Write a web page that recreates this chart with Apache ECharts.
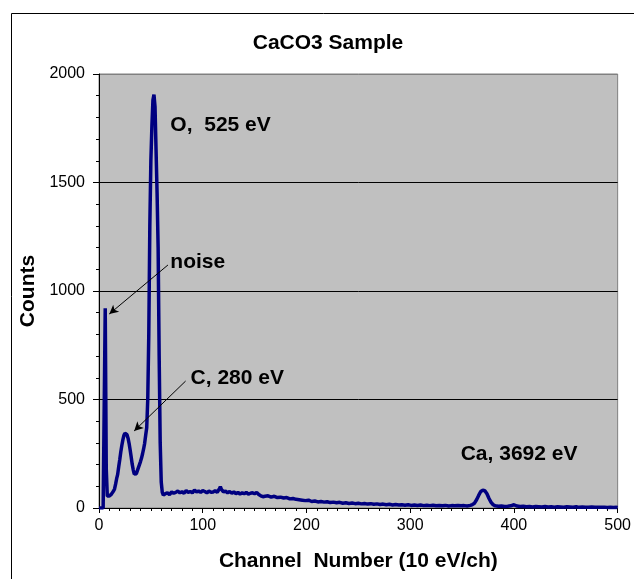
<!DOCTYPE html>
<html>
<head>
<meta charset="utf-8">
<script src="https://cdn.jsdelivr.net/npm/echarts@6/dist/echarts.min.js"></script>
<style>
html,body{margin:0;padding:0;background:#fff;}
#main{width:634px;height:579px;}
</style>
</head>
<body>
<div id="main"></div>
<script>
// ---- data ----
const channels = [
  0,1,2,3,4,5,6,7,8,9,10,11,12,13,14,15,16,17,18,19,20,21,22,23,24,25,26,27,28,29,
  30,31,32,33,34,35,36,37,38,39,40,41,42,43,44,45,46,47,48,49,50,51,52,53,54,55,56,57,58,59,
  60,61,62,64,66,68,70,72,74,76,78,80,82,84,86,88,90,92,94,96,98,100,102,104,106,108,110,112,114,116,
  117,118,120,122,124,126,128,130,132,134,136,138,140,142,144,146,148,150,152,154,156,158,160,
  163,166,169,172,175,178,181,184,187,190,193,196,199,202,205,208,211,214,217,220,223,226,229,232,235,238,
  241,244,247,250,253,256,259,262,265,268,271,274,277,280,283,286,289,292,295,298,301,304,307,310,313,316,
  319,322,325,328,331,334,337,340,343,346,349,352,355,358,360,362,364,366,368,370,372,374,376,378,380,382,
  385,388,391,394,397,400,403,406,409,412,415,418,421,424,427,430,433,436,439,442,445,448,451,454,457,460,
  463,466,469,472,475,478,481,484,487,490,493,496,499,500
];
const counts = [
  0,0,0,0,0,0,920,180,55,48,55,60,64,72,78,88,110,135,155,190,222,258,288,314,334,345,347,338,322,298,
  268,236,202,176,156,148,158,172,186,200,214,230,250,272,298,335,370,500,800,1300,1600,1760,1880,1905,1850,1650,1450,1200,700,300,
  120,72,60,66,70,62,74,68,72,78,70,75,68,80,72,76,70,82,74,78,72,80,76,70,78,72,74,80,72,88,
  98,86,74,78,70,76,68,74,66,72,64,70,66,72,64,68,70,66,72,62,56,52,54,
  56,50,54,48,50,46,48,42,44,40,38,36,34,36,30,32,28,30,27,29,25,27,24,26,22,24,
  21,23,20,22,19,21,18,20,17,19,16,18,15,17,14,16,14,15,13,15,12,14,12,14,11,13,
  11,13,10,12,10,12,9,11,10,12,10,11,9,12,16,22,38,58,76,82,80,66,44,26,15,10,
  8,9,7,8,10,15,9,7,8,6,7,5,7,6,5,7,5,6,4,6,5,4,6,5,4,6,
  3,5,4,3,5,3,4,3,4,2,3,2,3,2
];
const xTicks = [0,100,200,300,400,500];
const yTicks = [0,500,1000,1500,2000];
const annotations = [
  {text: 'O,  525 eV', c: 68.8, v: 1765},
  {text: 'noise', c: 68.8, v: 1135},
  {text: 'C, 280 eV', c: 88.3, v: 599},
  {text: 'Ca, 3692 eV', c: 348.7, v: 249}
];
const arrows = [
  {from: [66.5, 1120], to: [9.9, 894]},
  {from: [83.5, 585], to: [33.9, 355]}
];
const chartTitle = 'CaCO3 Sample';
const xTitle = 'Channel  Number (10 eV/ch)';
const yTitle = 'Counts';

const FONT = "'Liberation Sans', Arial, sans-serif";
const seriesData = channels.map((c, i) => [c, counts[i]]);

const chart = echarts.init(document.getElementById('main'), null, {renderer: 'canvas'});
const option = {
  animation: false,
  backgroundColor: '#ffffff',
  grid: {
    left: 99, right: 14, top: 74, bottom: 71,
    show: true, backgroundColor: '#c0c0c0', borderColor: '#808080', borderWidth: 1
  },
  xAxis: {
    type: 'value',
    min: xTicks[0], max: xTicks[xTicks.length - 1], interval: 100,
    name: xTitle, nameLocation: 'middle', nameGap: 43,
    nameTextStyle: {fontFamily: FONT, fontSize: 21, fontWeight: 'bold', color: '#000'},
    axisLine: {show: true, onZero: false, lineStyle: {color: '#000', width: 1}},
    axisTick: {show: true, inside: false, length: 5, lineStyle: {color: '#000'}},
    minorTick: {show: true, splitNumber: 10, length: 3, lineStyle: {color: '#000'}},
    axisLabel: {fontFamily: FONT, fontSize: 16, color: '#000', margin: 10, formatter: v => String(v)},
    splitLine: {show: false}
  },
  yAxis: {
    type: 'value',
    min: yTicks[0], max: yTicks[yTicks.length - 1], interval: 500,
    name: yTitle, nameLocation: 'middle', nameGap: 56,
    nameTextStyle: {fontFamily: FONT, fontSize: 21, fontWeight: 'bold', color: '#000'},
    axisLine: {show: true, lineStyle: {color: '#000', width: 1}},
    axisTick: {show: true, inside: false, length: 6, lineStyle: {color: '#000'}},
    minorTick: {show: true, splitNumber: 5, length: 3, lineStyle: {color: '#000'}},
    axisLabel: {fontFamily: FONT, fontSize: 16, color: '#000', margin: 14, formatter: v => String(v)},
    splitLine: {show: true, lineStyle: {color: ['#000', '#000', '#000', '#000', '#808080'], width: 1}}
  },
  series: [{
    type: 'line',
    data: seriesData,
    showSymbol: false,
    symbol: 'none',
    lineStyle: {color: '#000080', width: 3.5},
    itemStyle: {color: '#000080'},
    markLine: {
      silent: true,
      symbol: ['none', 'arrow'],
      symbolSize: [7, 9],
      label: {show: false},
      lineStyle: {color: '#000', width: 1, type: 'solid'},
      emphasis: {disabled: true},
      data: arrows.map(a => [{coord: a.from}, {coord: a.to}])
    }
  }]
};
chart.setOption(option);

const graphics = [
  {
    type: 'rect', silent: true, z: -1,
    shape: {x: 11.5, y: 13.5, width: 700, height: 700},
    style: {fill: null, stroke: '#000', lineWidth: 1}
  },
  {
    type: 'text', silent: true,
    x: 328, y: 43,
    style: {text: chartTitle, font: 'bold 21px ' + FONT, fill: '#000', textAlign: 'center', textVerticalAlign: 'middle'}
  }
];
annotations.forEach(a => {
  const p = chart.convertToPixel({gridIndex: 0}, [a.c, a.v]);
  graphics.push({
    type: 'text', silent: true, z: 10,
    x: p[0], y: p[1],
    style: {text: a.text, font: 'bold 21px ' + FONT, fill: '#000', textAlign: 'left', textVerticalAlign: 'middle'}
  });
});
chart.setOption({graphic: graphics});
</script>
</body>
</html>
